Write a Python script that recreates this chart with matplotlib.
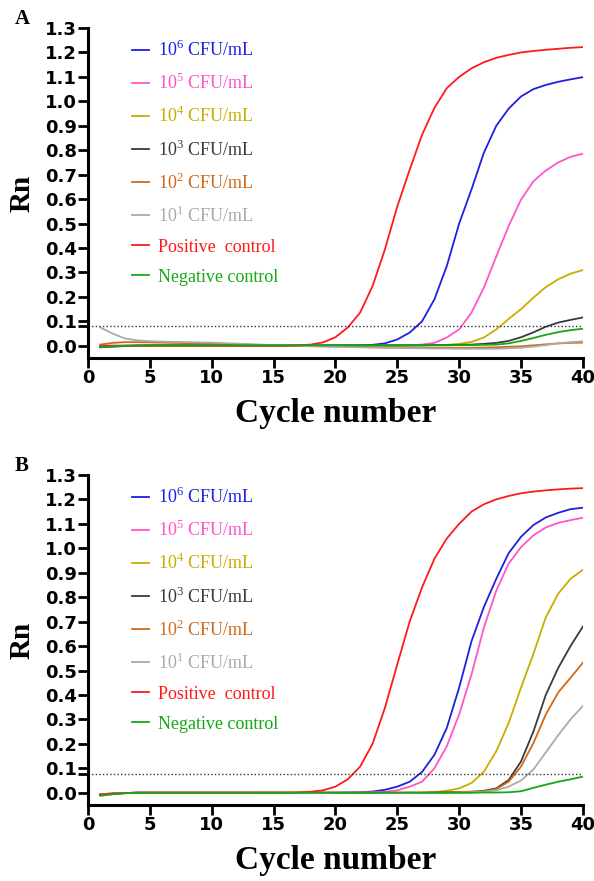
import matplotlib
matplotlib.use("Agg")
import matplotlib.pyplot as plt

plt.rcParams['mathtext.fontset'] = 'custom'
plt.rcParams['mathtext.rm'] = 'Liberation Serif'

cycles = list(range(1, 41))

labels = [r'10$^{\mathrm{6}}$ CFU/mL', r'10$^{\mathrm{5}}$ CFU/mL', r'10$^{\mathrm{4}}$ CFU/mL',
          r'10$^{\mathrm{3}}$ CFU/mL', r'10$^{\mathrm{2}}$ CFU/mL', r'10$^{\mathrm{1}}$ CFU/mL',
          'Positive  control', 'Negative control']
colors = ['#1f1fe0', '#ff55c8', '#c9ad00', '#3a3a3a', '#d06a1a', '#aaaaaa', '#ff1a1a', '#14a814']

# panel A
a_e6 = [-0.006, -0.003, -0.001, 0.000, 0.000, 0.000, 0.000, 0.000, 0.000, 0.000,
        0.000, 0.000, 0.000, 0.000, 0.000, 0.000, 0.000, 0.000, 0.000, 0.001,
        0.001, 0.002, 0.004, 0.010, 0.026, 0.054, 0.100, 0.190, 0.326, 0.500,
        0.640, 0.790, 0.900, 0.970, 1.020, 1.050, 1.067, 1.080, 1.090, 1.099]
a_e5 = [-0.004, -0.002, -0.001, 0.000, 0.000, 0.000, 0.000, 0.000, 0.000, 0.000,
        0.000, 0.000, 0.000, 0.000, 0.000, 0.000, 0.000, 0.000, 0.000, 0.000,
        0.000, 0.000, 0.000, 0.001, 0.001, 0.002, 0.005, 0.012, 0.034, 0.067,
        0.136, 0.238, 0.366, 0.490, 0.598, 0.673, 0.717, 0.750, 0.773, 0.786]
a_e4 = [-0.004, -0.002, -0.001, 0.000, 0.000, 0.000, 0.000, 0.000, 0.000, 0.000,
        0.000, 0.000, 0.000, 0.000, 0.000, 0.000, 0.000, 0.000, 0.000, 0.000,
        0.000, 0.000, 0.000, 0.000, 0.001, 0.001, 0.002, 0.003, 0.004, 0.008,
        0.016, 0.034, 0.067, 0.110, 0.150, 0.197, 0.240, 0.272, 0.295, 0.310]
a_e3 = [-0.004, -0.002, 0.000, 0.001, 0.002, 0.002, 0.002, 0.002, 0.002, 0.002,
        0.002, 0.002, 0.002, 0.002, 0.002, 0.002, 0.002, 0.002, 0.002, 0.002,
        0.002, 0.002, 0.002, 0.002, 0.002, 0.002, 0.002, 0.003, 0.003, 0.004,
        0.005, 0.008, 0.012, 0.020, 0.035, 0.055, 0.078, 0.095, 0.106, 0.116]
a_e2 = [0.005, 0.012, 0.015, 0.015, 0.014, 0.013, 0.012, 0.011, 0.010, 0.009,
        0.008, 0.006, 0.005, 0.003, 0.002, 0.001, 0.000, -0.001, -0.002, -0.003,
        -0.004, -0.005, -0.006, -0.007, -0.007, -0.008, -0.008, -0.008, -0.008, -0.008,
        -0.008, -0.007, -0.006, -0.004, -0.002, 0.002, 0.006, 0.010, 0.012, 0.013]
a_e1 = [0.075, 0.050, 0.030, 0.022, 0.019, 0.017, 0.016, 0.015, 0.014, 0.013,
        0.011, 0.009, 0.007, 0.005, 0.003, 0.002, 0.000, -0.002, -0.003, -0.004,
        -0.005, -0.006, -0.007, -0.007, -0.008, -0.009, -0.010, -0.011, -0.011, -0.012,
        -0.012, -0.012, -0.012, -0.010, -0.008, -0.003, 0.003, 0.010, 0.015, 0.018]
a_pos = [0.000, 0.001, 0.001, 0.001, 0.001, 0.001, 0.001, 0.001, 0.001, 0.001,
         0.001, 0.001, 0.001, 0.001, 0.001, 0.001, 0.002, 0.005, 0.014, 0.035,
         0.075, 0.136, 0.244, 0.394, 0.570, 0.720, 0.863, 0.973, 1.054, 1.100,
         1.135, 1.160, 1.178, 1.190, 1.200, 1.206, 1.211, 1.215, 1.219, 1.222]
a_neg = [-0.004, -0.002, 0.000, 0.001, 0.002, 0.002, 0.002, 0.002, 0.002, 0.002,
         0.002, 0.002, 0.002, 0.002, 0.002, 0.002, 0.002, 0.002, 0.002, 0.002,
         0.002, 0.002, 0.002, 0.002, 0.002, 0.002, 0.002, 0.002, 0.002, 0.003,
         0.003, 0.004, 0.005, 0.010, 0.020, 0.032, 0.045, 0.056, 0.064, 0.070]

# panel B
b_e6 = [-0.006, -0.003, -0.001, 0.000, 0.000, 0.000, 0.000, 0.000, 0.000, 0.000,
        0.000, 0.000, 0.000, 0.000, 0.000, 0.000, 0.000, 0.000, 0.000, 0.000,
        0.001, 0.002, 0.005, 0.012, 0.025, 0.045, 0.085, 0.155, 0.265, 0.430,
        0.620, 0.760, 0.875, 0.980, 1.047, 1.095, 1.126, 1.145, 1.160, 1.166]
b_e5 = [-0.006, -0.003, -0.001, 0.000, 0.000, 0.000, 0.000, 0.000, 0.000, 0.000,
        0.000, 0.000, 0.000, 0.000, 0.000, 0.000, 0.000, 0.000, 0.000, 0.000,
        0.000, 0.001, 0.002, 0.004, 0.010, 0.025, 0.045, 0.100, 0.190, 0.320,
        0.484, 0.676, 0.827, 0.937, 1.005, 1.053, 1.085, 1.104, 1.115, 1.125]
b_e4 = [-0.012, -0.006, -0.002, 0.000, 0.000, 0.000, 0.000, 0.000, 0.000, 0.000,
        0.000, 0.000, 0.000, 0.000, 0.000, 0.000, 0.000, 0.000, 0.000, 0.000,
        0.000, 0.000, 0.000, 0.000, 0.000, 0.001, 0.001, 0.003, 0.008, 0.018,
        0.040, 0.086, 0.170, 0.285, 0.430, 0.568, 0.717, 0.814, 0.875, 0.912]
b_e3 = [-0.008, -0.004, -0.001, 0.000, 0.000, 0.000, 0.000, 0.000, 0.000, 0.000,
        0.000, 0.000, 0.000, 0.000, 0.000, 0.000, 0.000, 0.000, 0.000, 0.000,
        0.000, 0.000, 0.000, 0.000, 0.000, 0.000, 0.000, 0.001, 0.002, 0.003,
        0.004, 0.008, 0.018, 0.052, 0.128, 0.250, 0.400, 0.510, 0.600, 0.680]
b_e2 = [-0.008, -0.004, -0.001, 0.000, 0.000, 0.000, 0.000, 0.000, 0.000, 0.000,
        0.000, 0.000, 0.000, 0.000, 0.000, 0.000, 0.000, 0.000, 0.000, 0.000,
        0.000, 0.000, 0.000, 0.000, 0.000, 0.000, 0.000, 0.001, 0.002, 0.003,
        0.004, 0.006, 0.015, 0.045, 0.107, 0.203, 0.320, 0.410, 0.470, 0.532]
b_e1 = [-0.008, -0.004, -0.001, 0.000, 0.000, 0.000, 0.000, 0.000, 0.000, 0.000,
        0.000, 0.000, 0.000, -0.001, -0.001, -0.002, -0.002, -0.002, -0.001, 0.000,
        0.000, 0.000, 0.000, -0.001, -0.001, -0.002, -0.002, -0.002, -0.001, 0.000,
        0.002, 0.004, 0.010, 0.025, 0.050, 0.095, 0.165, 0.235, 0.300, 0.355]
b_pos = [-0.008, -0.004, -0.001, 0.000, 0.000, 0.000, 0.000, 0.000, 0.000, 0.000,
         0.000, 0.000, 0.000, 0.000, 0.000, 0.000, 0.001, 0.004, 0.010, 0.025,
         0.055, 0.107, 0.200, 0.347, 0.525, 0.700, 0.840, 0.957, 1.040, 1.100,
         1.150, 1.180, 1.200, 1.214, 1.225, 1.232, 1.237, 1.241, 1.244, 1.246]
b_neg = [-0.012, -0.006, -0.002, 0.000, 0.000, 0.000, 0.000, 0.000, 0.000, 0.000,
         0.000, 0.000, 0.000, 0.000, 0.000, 0.000, 0.000, 0.000, 0.000, 0.000,
         0.000, 0.000, 0.000, 0.000, 0.000, 0.000, 0.000, 0.000, 0.000, 0.000,
         0.000, 0.001, 0.001, 0.002, 0.006, 0.020, 0.033, 0.045, 0.055, 0.066]

threshold_a = 0.08
threshold_b = 0.076

panels = [
    ('A', [a_e6, a_e5, a_e4, a_e3, a_e2, a_e1, a_pos, a_neg], threshold_a, 0.5936),
    ('B', [b_e6, b_e5, b_e4, b_e3, b_e2, b_e1, b_pos, b_neg], threshold_b, 0.0863),
]

fig = plt.figure(figsize=(5.94, 8.81), dpi=100)

for letter, series, thr, bottom in panels:
    ax = fig.add_axes([0.148, bottom, 0.8333, 0.3746])
    for vals, c, lab in zip(series, colors, labels):
        ax.plot(cycles, vals, color=c, lw=1.3, label=lab)
    ax.axhline(thr, color='#333333', lw=1.0, ls=(0, (1, 1.6)))

    ax.set_xlim(0, 40)
    ax.set_ylim(-0.05, 1.3)
    ax.set_xticks(range(0, 41, 5))
    ax.set_yticks([i / 10 for i in range(0, 14)])
    ax.set_yticks([thr], minor=True)
    ax.set_yticklabels([f'{i / 10:.1f}' for i in range(0, 14)])
    for lab in ax.get_xticklabels() + ax.get_yticklabels():
        lab.set_fontfamily('DejaVu Sans')
        lab.set_fontweight('bold')
        lab.set_fontsize(13)
    ax.tick_params(which='both', direction='out', length=7, width=2, color='black', pad=1)
    ax.spines['top'].set_visible(False)
    ax.spines['right'].set_visible(False)
    ax.spines['left'].set_linewidth(2.2)
    ax.spines['bottom'].set_linewidth(2.2)

    ax.set_xlabel('Cycle number', fontfamily='Liberation Serif', fontweight='bold', fontsize=24)
    ax.xaxis.set_label_coords(0.5, -0.12)
    ax.set_ylabel('Rn', fontfamily='Liberation Serif', fontweight='bold', fontsize=21)
    ax.yaxis.set_label_coords(-0.105, 0.5)

    ax.legend(loc='upper left', bbox_to_anchor=(0.075, 0.985), frameon=False,
              prop={'family': 'Liberation Serif', 'size': 13}, labelcolor='linecolor',
              handlelength=0.9, handletextpad=0.5, labelspacing=0.72, borderaxespad=0)

    fig.text(0.025, bottom + 0.3746 + 0.01, letter, fontfamily='Liberation Serif',
             fontweight='bold', fontsize=15, va='center')

fig.savefig('out.png', dpi=100)
